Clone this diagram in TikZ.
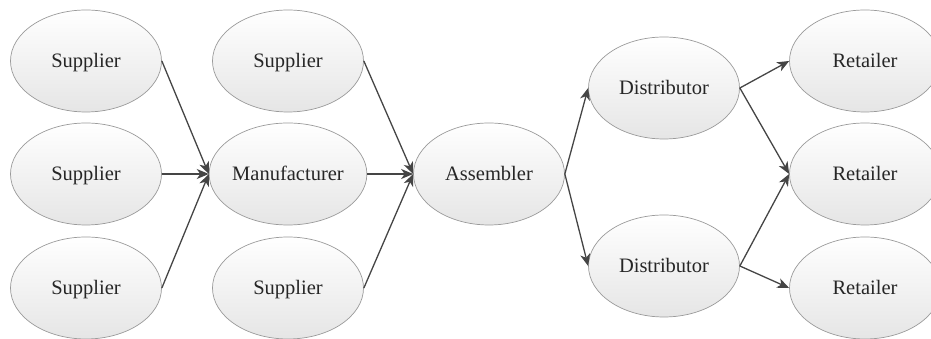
\documentclass[tikz,border=0pt]{standalone}
\usepackage{fontspec}
\setmainfont{Liberation Serif}
\usetikzlibrary{shapes.geometric, arrows.meta}
\definecolor{edgegray}{HTML}{9A9A9A}
\definecolor{linkgray}{HTML}{454545}

\begin{document}
\begin{tikzpicture}[x=1pt, y=1pt,
    member/.style={ellipse, draw=edgegray, line width=0.7pt, top color=white, bottom color=black!10,
      minimum width=151pt, minimum height=102pt, inner sep=0pt, text height=13.5pt, text depth=0pt,
      font=\fontsize{20.5}{24}\selectfont, text=black!85},
    link/.style={draw=linkgray, line width=1.3pt, -{Stealth[length=12pt, width=10pt, inset=3.5pt]}}]
    \useasboundingbox (0,0) rectangle (931,339);
    % first tier
    \node[member] (sup1) at (86,278) {Supplier};
    \node[member] (sup2) at (86,165) {Supplier};
    \node[member] (sup3) at (86,51) {Supplier};
    % second tier
    \node[member] (sup4) at (288,278) {Supplier};
    \node[member] (man) at (288,165) {Manufacturer};
    \node[member] (sup5) at (288,51) {Supplier};
    \node[member] (asm) at (489,165) {Assembler};
    \node[member] (dis1) at (664,251) {Distributor};
    \node[member] (dis2) at (664,73) {Distributor};
    \foreach \y/\n in {278/1, 165/2, 51/3}
        \node[member] (ret\n) at (865,\y) {Retailer};
    % links
    \foreach \s in {sup1, sup2, sup3}
        \draw[link] (\s.east) -- (man.west);
    \foreach \s in {sup4, man, sup5}
        \draw[link] (\s.east) -- (asm.west);
    \draw[link] (asm.east) -- (dis1.west);
    \draw[link] (asm.east) -- (dis2.west);
    \draw[link] (dis1.east) -- (ret1.west);
    \draw[link] (dis1.east) -- (ret2.west);
    \draw[link] (dis2.east) -- (ret2.west);
    \draw[link] (dis2.east) -- (ret3.west);
\end{tikzpicture}
\end{document}
